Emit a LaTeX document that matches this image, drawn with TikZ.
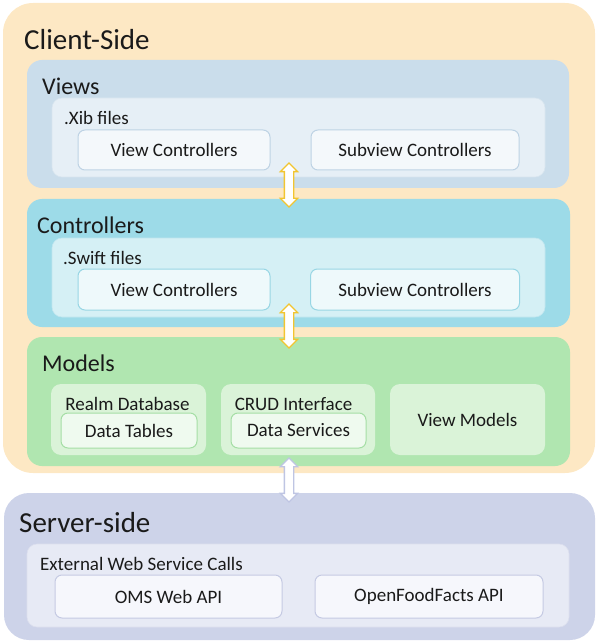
\documentclass[tikz,border=0pt]{standalone}
\usepackage{fontspec}
\setmainfont{Carlito}
\usetikzlibrary{shapes.arrows}
\definecolor{cOrange}{HTML}{FDE8C4}
\definecolor{cViews}{HTML}{CADDEB}
\definecolor{cViewsIn}{HTML}{E6EFF6}
\definecolor{cViewsBox}{HTML}{F4F8FB}
\definecolor{cViewsLine}{HTML}{BED3E4}
\definecolor{cCtrl}{HTML}{9DDBE8}
\definecolor{cCtrlIn}{HTML}{D5F0F5}
\definecolor{cCtrlBox}{HTML}{EEF9FB}
\definecolor{cCtrlLine}{HTML}{98D6E4}
\definecolor{cModel}{HTML}{B0E6B0}
\definecolor{cModelIn}{HTML}{DAF3D8}
\definecolor{cModelBox}{HTML}{EFFAEF}
\definecolor{cModelLine}{HTML}{A5DEA5}
\definecolor{cServer}{HTML}{CDD3E9}
\definecolor{cServerIn}{HTML}{E7EAF5}
\definecolor{cServerBox}{HTML}{F6F7FC}
\definecolor{cServerLine}{HTML}{C5CAE3}
\definecolor{cYellow}{HTML}{F2C530}
\definecolor{cLav}{HTML}{BFC5E3}
\definecolor{cText}{HTML}{1A1A1A}
\tikzset{
  x=1pt, y=-1pt,
  panel/.style={rectangle, rounded corners=#1, inner sep=0pt, draw=none},
  panel/.default=15pt,
  leaf/.style={rectangle, rounded corners=7pt, inner sep=0pt, line width=1pt, text=cText, font=\fontsize{19}{22}\selectfont},
  bigtitle/.style={anchor=west, inner sep=0pt, text=cText, font=\fontsize{29}{34}\selectfont},
  midtitle/.style={anchor=west, inner sep=0pt, text=cText, font=\fontsize{24}{28}\selectfont},
  smalltitle/.style={inner sep=0pt, text=cText, font=\fontsize{19}{22}\selectfont},
  fatarrow/.style={double arrow, rotate=90, draw=#1, fill=white, line width=1.3pt,
    minimum height=44pt, minimum width=0pt, inner xsep=0pt, inner ysep=4pt,
    double arrow head extend=4pt, double arrow tip angle=90}
}
\begin{document}
\begin{tikzpicture}
\useasboundingbox (0,0) rectangle (598,644);
% Client side
\node[panel=30pt, fill=cOrange, minimum width=592pt, minimum height=470pt] (client) at (299,238) {};
\node[bigtitle] (clientT) at (24,40) {Client-Side};
% Views
\node[panel, fill=cViews, minimum width=542pt, minimum height=128pt] (views) at (298,124) {};
\node[midtitle] (viewsT) at (42,86) {Views};
\node[panel=10pt, fill=cViewsIn, draw=cViewsLine!60, line width=0.6pt, minimum width=493pt, minimum height=79pt] (viewsIn) at (298.5,137.5) {};
\node[smalltitle, anchor=west] (xibT) at (64,118) {.Xib files};
\node[leaf, fill=cViewsBox, draw=cViewsLine, minimum width=192pt, minimum height=40pt] (vc1) at (174,150) {View Controllers};
\node[leaf, fill=cViewsBox, draw=cViewsLine, minimum width=208pt, minimum height=40pt] (sc1) at (415,150) {Subview Controllers};
% Controllers
\node[panel, fill=cCtrl, minimum width=543pt, minimum height=128pt] (ctrl) at (298.5,263) {};
\node[midtitle] (ctrlT) at (37,225) {Controllers};
\node[panel=10pt, fill=cCtrlIn, draw=cCtrlLine!60, line width=0.6pt, minimum width=493pt, minimum height=79pt] (ctrlIn) at (298.5,277.5) {};
\node[smalltitle, anchor=west] (swiftT) at (63,258) {.Swift files};
\node[leaf, fill=cCtrlBox, draw=cCtrlLine, minimum width=192pt, minimum height=41pt] (vc2) at (174,289.5) {View Controllers};
\node[leaf, fill=cCtrlBox, draw=cCtrlLine, minimum width=209pt, minimum height=41pt] (sc2) at (415,289.5) {Subview Controllers};
% Models
\node[panel, fill=cModel, minimum width=543pt, minimum height=129pt] (models) at (298.5,401.5) {};
\node[midtitle] (modelsT) at (42,363) {Models};
\node[panel=10pt, fill=cModelIn, minimum width=155pt, minimum height=71pt] (realm) at (128.5,419.5) {};
\node[smalltitle] (realmT) at (127.5,404) {Realm Database};
\node[leaf, fill=cModelBox, draw=cModelLine, minimum width=136pt, minimum height=35pt] (tables) at (129,430.5) {Data Tables};
\node[panel=10pt, fill=cModelIn, minimum width=154pt, minimum height=71pt] (crud) at (298,419.5) {};
\node[smalltitle] (crudT) at (293.5,404) {CRUD Interface};
\node[leaf, fill=cModelBox, draw=cModelLine, minimum width=135pt, minimum height=35pt] (services) at (298.5,430.5) {Data Services};
\node[panel=10pt, fill=cModelIn, minimum width=155pt, minimum height=71pt, text=cText, font=\fontsize{19}{22}\selectfont] (vm) at (467.5,419.5) {View Models};
% Server side
\node[panel=25pt, fill=cServer, minimum width=591pt, minimum height=147pt] (server) at (299.5,566.5) {};
\node[bigtitle] (serverT) at (19,523) {Server-side};
\node[panel=10pt, fill=cServerIn, draw=cServerLine!60, line width=0.6pt, minimum width=542pt, minimum height=83pt] (serverIn) at (298,585.5) {};
\node[smalltitle, anchor=west] (extT) at (40,564) {External Web Service Calls};
\node[leaf, fill=cServerBox, draw=cServerLine, minimum width=227pt, minimum height=43pt] (oms) at (168.5,596.5) {OMS Web API};
\node[leaf, fill=cServerBox, draw=cServerLine, minimum width=228pt, minimum height=43pt] (off) at (429,596.5) {OpenFoodFacts API};
% Connectors
\node[fatarrow=cYellow] (a1) at (289,185) {};
\node[fatarrow=cYellow] (a2) at (289,326) {};
\node[fatarrow=cLav] (a3) at (289,480) {};
\end{tikzpicture}
\end{document}
